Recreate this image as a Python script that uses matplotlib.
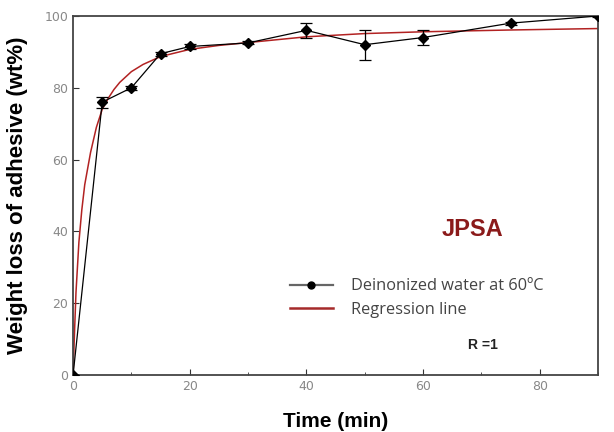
import matplotlib
matplotlib.use("Agg")
import matplotlib.pyplot as plt
from matplotlib.ticker import MultipleLocator
from matplotlib.lines import Line2D

# Measured data
time_min = [0, 5, 10, 15, 20, 30, 40, 50, 60, 75, 90]
weight_loss = [0, 76, 80, 89.5, 91.5, 92.5, 96, 92, 94, 98, 100]
err = [0, 1.5, 0.6, 0.6, 0.6, 0.4, 2.0, 4.2, 2.0, 0.4, 0.3]

# Regression curve
reg_t = [0, 0.25, 0.5, 1, 1.5, 2, 3, 4, 5, 6, 7, 8, 10, 12, 15, 20, 25, 30, 40, 50, 60, 75, 90]
reg_y = [0, 12, 23, 37, 46, 53, 62, 69, 74, 77, 79.5, 81.5, 84.5, 86.5, 88.7, 90.7, 91.8, 92.6, 94.2, 95.1, 95.6, 96.1, 96.5]

fig = plt.figure(figsize=(6.14, 4.32), dpi=100)
ax = fig.add_axes([0.119, 0.132, 0.855, 0.831])

ax.plot(reg_t, reg_y, color="#b22222", lw=1.1, zorder=2)
ax.errorbar(time_min, weight_loss, yerr=err, color="black", lw=0.9, marker="D",
            markersize=5, capsize=4, elinewidth=0.9, capthick=0.9, zorder=3)

ax.set_xlim(0, 90)
ax.set_ylim(0, 100)
ax.xaxis.set_major_locator(MultipleLocator(20))
ax.xaxis.set_minor_locator(MultipleLocator(10))
ax.yaxis.set_major_locator(MultipleLocator(20))
ax.tick_params(which="both", direction="in", colors="#333333", labelcolor="#888888",
               labelsize=9)
ax.tick_params(which="major", length=4)
ax.tick_params(which="minor", length=2)
for s in ax.spines.values():
    s.set_color("#444444")
    s.set_linewidth(1.3)

ax.set_ylabel("Weight loss of adhesive (wt%)", fontsize=16, fontweight="bold",
              family="Liberation Sans", labelpad=12)
ax.set_xlabel("Time (min)", fontsize=15, fontweight="bold", family="Liberation Sans",
              labelpad=14)

h1 = Line2D([], [], color="#666666", lw=1.6, marker="o", markersize=5,
            markerfacecolor="black", markeredgecolor="black")
h2 = Line2D([], [], color="#a52a2a", lw=1.8)
leg = ax.legend([h1, h2], ["Deinonized water at 60ºC", "Regression line"],
                loc="upper left", bbox_to_anchor=(0.385, 0.31), frameon=False,
                handlelength=2.6, handletextpad=1.1, labelspacing=0.45,
                prop={"family": "Open Sans", "size": 11.8})
for t in leg.get_texts():
    t.set_color("#444444")

ax.text(0.76, 0.405, "JPSA", transform=ax.transAxes, color="#8b1a1a", fontsize=17,
        fontweight="bold", ha="center", va="center", family="Liberation Sans")
ax.text(0.78, 0.083, "R =1", transform=ax.transAxes, color="#222222", fontsize=10,
        fontweight="bold", ha="center", va="center", family="Liberation Sans")

fig.savefig("out.png", dpi=100)
